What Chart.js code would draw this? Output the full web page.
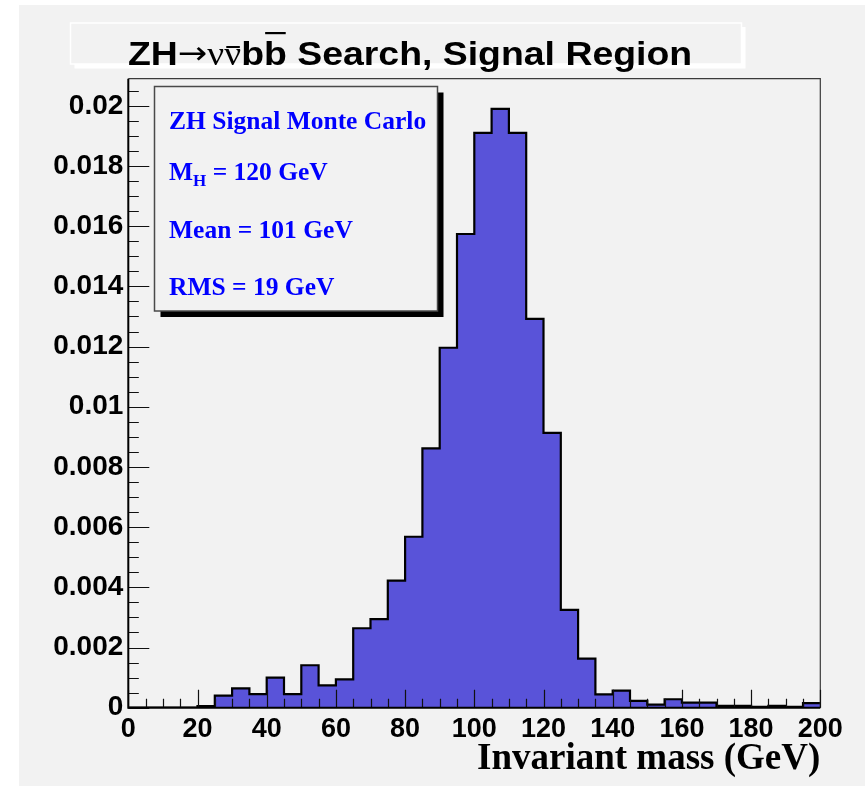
<!DOCTYPE html>
<html>
<head>
<meta charset="utf-8">
<title>ZH signal invariant mass</title>
<script src="https://cdn.jsdelivr.net/npm/chart.js@4.4.1/dist/chart.umd.min.js"></script>
<style>
  body { margin: 0; background: #ffffff; }
  canvas { display: block; }
</style>
</head>
<body>
<canvas id="histo" width="865" height="786"></canvas>
<script>
// lower edges of the 5 GeV mass bins
const binLow = [
  0, 5, 10, 15, 20, 25, 30, 35, 40, 45,
  50, 55, 60, 65, 70, 75, 80, 85, 90, 95,
  100, 105, 110, 115, 120, 125, 130, 135, 140, 145,
  150, 155, 160, 165, 170, 175, 180, 185, 190, 195
];
const xMax = 200;

// normalised signal content per bin
const massFraction = [
  0, 0, 0, 0, 0.00005, 0.0004, 0.00064, 0.00045, 0.001, 0.00045,
  0.00141, 0.00074, 0.00094, 0.00264, 0.00294, 0.00422, 0.00568, 0.00862, 0.01196, 0.01574,
  0.0191, 0.0199, 0.0191, 0.01292, 0.00913, 0.00325, 0.00163, 0.00044, 0.00057, 0.00023,
  0.0001, 0.00028, 0.00017, 0.00017, 0.00006, 0.00006, 0.00003, 0.00006, 0.00003, 0.00015
];

const yMax = 0.0209;
const xTickStep = 20;
const xMinorStep = 5;
const yTickStep = 0.002;
const yMinorStep = 0.0005;

const statsLines = [
  { text: "ZH Signal Monte Carlo" },
  { text: "M", sub: "H", rest: " = 120 GeV" },
  { text: "Mean = 101 GeV" },
  { text: "RMS = 19 GeV" }
];

const SANS = '"Liberation Sans", Arial, Helvetica, sans-serif';
const SERIF = '"Liberation Serif", "Times New Roman", Times, serif';
const PANEL = "#f2f2f2";

// step outline: one point per lower edge, closed at the upper edge of the last bin
const outline = binLow.map((x, i) => ({ x: x, y: massFraction[i] }));
outline.push({ x: xMax, y: massFraction[massFraction.length - 1] });

const canvasBackground = {
  id: "canvasBackground",
  beforeDraw(chart) {
    const ctx = chart.ctx;
    ctx.save();
    ctx.fillStyle = "#ffffff";
    ctx.fillRect(0, 0, chart.width, chart.height);
    ctx.fillStyle = PANEL;
    ctx.fillRect(19, 5, chart.width - 19, chart.height - 5);

    // title pave: white outline with a white drop shadow
    ctx.fillStyle = "#ffffff";
    ctx.fillRect(74.5, 27, 671, 41.5);
    ctx.fillStyle = PANEL;
    ctx.fillRect(70.5, 23, 671, 41);
    ctx.strokeStyle = "#ffffff";
    ctx.lineWidth = 1.5;
    ctx.strokeRect(70.5, 23, 671, 41);

    drawTitle(ctx);
    ctx.restore();
  }
};

function drawTitle(ctx) {
  const stretch = 1.1;
  const sans = "bold 34px " + SANS;
  const greek = "34px " + SERIF;
  const arrow = "32px \"DejaVu Sans\", sans-serif";
  const base = 65;
  let x = 128 / stretch;
  ctx.save();
  ctx.scale(stretch, 1);
  ctx.fillStyle = "#000000";
  ctx.textAlign = "left";
  ctx.textBaseline = "alphabetic";
  function piece(text, font, dy) {
    ctx.font = font;
    ctx.fillText(text, x, base + (dy || 0));
    const w = ctx.measureText(text).width;
    const x0 = x;
    x += w;
    return [x0, w];
  }
  piece("ZH", sans);
  piece("\u2192", arrow, -1);
  piece("\u03bd", greek);
  const nu = piece("\u03bd", greek);
  ctx.fillRect(nu[0] + nu[1] * 0.12, 46, nu[1] * 0.8, 2);
  piece("b", sans);
  const b = piece("b", sans);
  ctx.fillRect(b[0] + b[1] * 0.05, 32, b[1] * 0.9, 2.2);
  piece(" Search, Signal Region", sans);
  ctx.restore();
}

const frameAndAxes = {
  id: "frameAndAxes",
  afterDatasetsDraw(chart) {
    const ctx = chart.ctx;
    const a = chart.chartArea;
    const xs = chart.scales.x;
    const ys = chart.scales.y;
    ctx.save();

    // thin frame on top and right
    ctx.strokeStyle = "#3a3a3a";
    ctx.lineWidth = 1.2;
    ctx.beginPath();
    ctx.moveTo(a.left, a.top);
    ctx.lineTo(a.right, a.top);
    ctx.lineTo(a.right, a.bottom);
    ctx.stroke();

    // inward tick marks
    ctx.strokeStyle = "#111111";
    ctx.lineWidth = 1.2;
    ctx.beginPath();
    for (let i = 0; i * xMinorStep <= xMax; i++) {
      const v = i * xMinorStep;
      const px = Math.round(xs.getPixelForValue(v)) + 0.5;
      const len = v % xTickStep === 0 ? 18 : 9;
      ctx.moveTo(px, a.bottom);
      ctx.lineTo(px, a.bottom - len);
    }
    for (let i = 0; i * yMinorStep <= ys.max; i++) {
      const py = Math.round(ys.getPixelForValue(i * yMinorStep)) + 0.5;
      const len = i % 4 === 0 ? 21 : 10.5;
      ctx.moveTo(a.left, py);
      ctx.lineTo(a.left + len, py);
    }
    ctx.stroke();

    // axis lines
    ctx.strokeStyle = "#000000";
    ctx.lineWidth = 2;
    ctx.beginPath();
    ctx.moveTo(a.left, a.top);
    ctx.lineTo(a.left, a.bottom);
    ctx.lineTo(a.right, a.bottom);
    ctx.stroke();
    ctx.restore();
  }
};

const statsBox = {
  id: "statsBox",
  afterDraw(chart) {
    const ctx = chart.ctx;
    const left = 154.5, top = 86.5, w = 283, h = 224.5;
    ctx.save();
    ctx.fillStyle = "#000000";
    ctx.fillRect(left + 6, top + 6, w, h);
    ctx.fillStyle = PANEL;
    ctx.fillRect(left, top, w, h);
    ctx.strokeStyle = "#4a4a4a";
    ctx.lineWidth = 1.5;
    ctx.strokeRect(left, top, w, h);

    ctx.fillStyle = "#0000ff";
    ctx.textAlign = "left";
    ctx.textBaseline = "alphabetic";
    const font = "bold 25.5px " + SERIF;
    const subFont = "bold 17px " + SERIF;
    const baselines = [129, 179.5, 237.5, 294.5];
    statsLines.forEach((line, i) => {
      let x = 169;
      ctx.font = font;
      ctx.fillText(line.text, x, baselines[i]);
      x += ctx.measureText(line.text).width;
      if (line.sub) {
        ctx.font = subFont;
        ctx.fillText(line.sub, x, baselines[i] + 6.5);
        x += ctx.measureText(line.sub).width;
        ctx.font = font;
        ctx.fillText(line.rest, x, baselines[i]);
      }
    });
    ctx.restore();
  }
};

new Chart(document.getElementById("histo"), {
  type: "line",
  data: {
    datasets: [{
      data: outline,
      stepped: "before",
      fill: "origin",
      backgroundColor: "#5953d9",
      borderColor: "#000000",
      borderWidth: 2.2,
      borderJoinStyle: "miter",
      pointRadius: 0,
      pointHoverRadius: 0
    }]
  },
  options: {
    responsive: false,
    animation: false,
    devicePixelRatio: 1,
    layout: { padding: { left: 0, right: 44.7, top: 78.7, bottom: 0 } },
    plugins: {
      legend: { display: false },
      tooltip: { enabled: false }
    },
    scales: {
      x: {
        type: "linear",
        min: 0,
        max: xMax,
        offset: false,
        grid: { display: false, drawTicks: false },
        border: { display: false },
        ticks: {
          stepSize: xTickStep,
          includeBounds: false,
          maxRotation: 0,
          autoSkip: false,
          padding: 6,
          color: "#000000",
          font: { family: SANS, weight: "bold", size: 27 }
        },
        title: {
          display: true,
          text: "Invariant mass (GeV)",
          align: "end",
          color: "#000000",
          font: { family: SERIF, weight: "bold", size: 37, lineHeight: 1 },
          padding: { top: 0, bottom: 8 }
        },
        afterFit(scale) { scale.height = 78.3; }
      },
      y: {
        min: 0,
        max: yMax,
        grid: { display: false, drawTicks: false },
        border: { display: false },
        ticks: {
          stepSize: yTickStep,
          includeBounds: false,
          padding: 5,
          color: "#000000",
          font: { family: SANS, weight: "bold", size: 28 },
          callback: (v) => String(parseFloat(Number(v).toFixed(4)))
        },
        afterFit(scale) { scale.width = 128.3; }
      }
    }
  },
  plugins: [canvasBackground, frameAndAxes, statsBox]
});
</script>
</body>
</html>
